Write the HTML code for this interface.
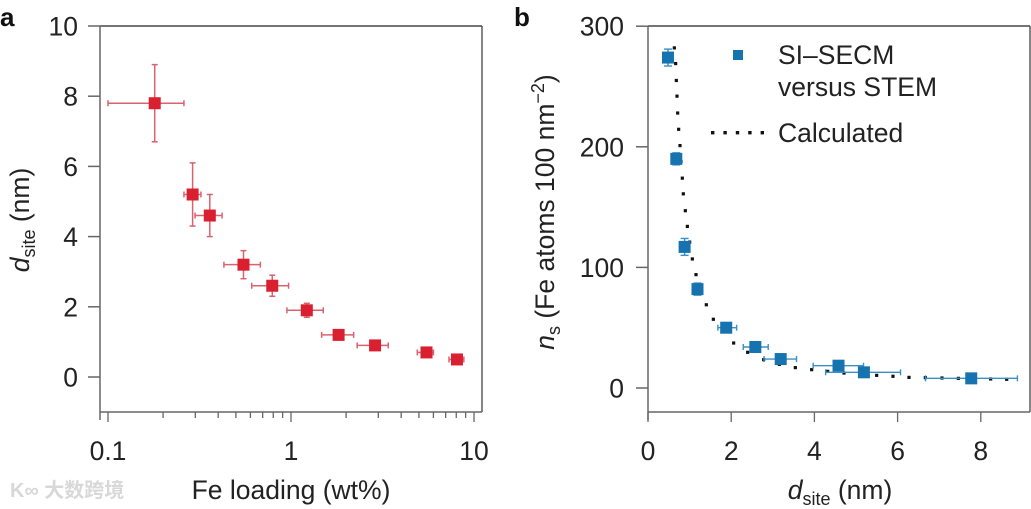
<!DOCTYPE html>
<html><head><meta charset="utf-8"><style>
html,body{margin:0;padding:0;background:#fff;}
svg{display:block;font-family:"Liberation Sans","Noto Sans CJK SC",sans-serif;}
</style></head><body>
<svg id="chart" width="1031" height="509" viewBox="0 0 1031 509" xmlns="http://www.w3.org/2000/svg">
<g id="pa"></g>
<g id="pb"></g>
</svg>
<script>
// Panel a data
const aX = [0.18,0.29,0.36,0.55,0.79,1.22,1.82,2.88,5.5,8.07];
const aY = [7.8,5.2,4.6,3.2,2.6,1.9,1.2,0.9,0.7,0.5];
const aXlo = [0.1,0.26,0.299,0.43,0.61,0.95,1.47,2.3,4.9,7.3];
const aXhi = [0.26,0.322,0.42,0.68,0.97,1.5,2.2,3.4,6.0,8.8];
const aYlo = [6.7,4.3,4.0,2.8,2.3,1.7,1.1,0.85,0.65,0.45];
const aYhi = [8.9,6.1,5.2,3.6,2.9,2.1,1.3,0.95,0.75,0.55];
const aYTicks = [0,2,4,6,8,10];
const aXTicks = [0.1,1,10];
const aXTickLabels = ["0.1","1","10"];
// Panel b data
const bX = [0.48,0.68,0.88,1.19,1.88,2.58,3.19,4.58,5.19,7.77];
const bY = [274,190,117,82,50,34,24,18.5,13,8];
const bXlo = [0.45,0.64,0.84,1.15,1.68,2.29,2.79,3.97,4.27,6.67];
const bXhi = [0.51,0.72,0.92,1.23,2.13,2.89,3.57,5.18,6.07,8.88];
const bYlo = [267,185,110,77,47,31,21,16,11,6];
const bYhi = [281,195,124,87,53,37,27,21,15,10];
const calcX = [0.633,0.665,0.681,0.697,0.713,0.737,0.769,0.793,0.825,0.849,0.897,0.946,1.002,1.066,1.154,1.242,1.402,1.571,1.779,2.059,2.396,2.78,3.157,3.542,3.934,4.319,4.712,5.112,5.497,5.889,6.274,6.667,7.067,7.46,7.837,8.237,8.622];
const calcY = [282,269,255,242,228,214.5,201,187.7,174,161,147,134,121,107,94,81,69,57,46.7,37.3,29.6,23.5,19.6,16.9,15.2,13.8,12.4,11.3,10.5,9.7,8.8,8.6,8.3,8.0,7.7,7.5,7.2];
const bYTicks = [0,100,200,300];
const bXTicks = [0,2,4,6,8];

const NS="http://www.w3.org/2000/svg";
const FS=26.5;
function mk(parent,tag,attrs,text){const e=document.createElementNS(NS,tag);for(const k in attrs)e.setAttribute(k,attrs[k]);if(text!==undefined)e.textContent=text;parent.appendChild(e);return e;}

const pa=document.getElementById('pa'), pb=document.getElementById('pb');
const axL=100,axR=482,axT=26,axB=412;
const ax=v=>108+(Math.log10(v)+1)*183;
const ay=v=>377-v*35.1;
const bxL=648,bxR=1030,bxT=26,bxB=412;
const bx=v=>648+v*41.6;
const by=v=>388-v*1.206;

function frame(g,L,R,T,B){
  let e;
  e=mk(g,'line',{x1:L,y1:T,x2:R,y2:T,stroke:'#222','stroke-width':1.3});
  
  e=mk(g,'line',{x1:R,y1:T,x2:R,y2:B,stroke:'#444','stroke-width':1.3});
  
  e=mk(g,'line',{x1:L,y1:T,x2:L,y2:B+8,stroke:'#666','stroke-width':1.5});
  
  e=mk(g,'line',{x1:L,y1:B,x2:R,y2:B,stroke:'#666','stroke-width':1.5});
  
}
frame(pa,axL,axR,axT,axB);
frame(pb,bxL,bxR,bxT,bxB);

let t=mk(pa,'text',{x:0,y:26,'font-size':26,'font-weight':'bold',fill:'#111'},'a');

t=mk(pb,'text',{x:514,y:26,'font-size':26,'font-weight':'bold',fill:'#111'},'b');


aYTicks.forEach(v=>{
  let l=mk(pa,'line',{x1:axL-12,x2:axL,y1:ay(v),y2:ay(v),stroke:'#666','stroke-width':1.5});
  
  let s=mk(pa,'text',{x:78,y:ay(v)+9.5,'font-size':FS,'text-anchor':'end',fill:'#222'},String(v));
  
});
for(let d=-1;d<=0;d++){for(let m=1;m<=9;m++){const v=m*Math.pow(10,d);
  let l=mk(pa,'line',{x1:ax(v),x2:ax(v),y1:axB,y2:axB+(m===1?10:6),stroke:'#666','stroke-width':1.3});
  }}
let l10=mk(pa,'line',{x1:ax(10),x2:ax(10),y1:axB,y2:axB+10,stroke:'#666','stroke-width':1.3});

aXTicks.forEach((v,i)=>{
  let s=mk(pa,'text',{x:ax(v),y:460,'font-size':FS,'text-anchor':'middle',fill:'#222'},aXTickLabels[i]);
  
});
t=mk(pa,'text',{x:291,y:499,'font-size':FS,'text-anchor':'middle',fill:'#222'},'Fe loading (wt%)');

t=mk(pa,'text',{transform:'translate(29,220) rotate(-90)','font-size':FS,'text-anchor':'middle',fill:'#222'});

mk(t,'tspan',{'font-style':'italic'},'d');mk(t,'tspan',{'font-size':18,dy:6},'site');mk(t,'tspan',{dy:-6},' (nm)');
t=mk(pa,'text',{x:10,y:497,'font-size':20,fill:'#d8d8d8','font-weight':'bold'},'K∞ 大数跨境');


aX.forEach((v,i)=>{
  const g=mk(pa,'g',{});
  
  const c='#d9636f',x=ax(v),y=ay(aY[i]);
  mk(g,'line',{x1:ax(aXlo[i]),x2:ax(aXhi[i]),y1:y,y2:y,stroke:c,'stroke-width':1.5});
  mk(g,'line',{x1:ax(aXlo[i]),x2:ax(aXlo[i]),y1:y-3,y2:y+3,stroke:c,'stroke-width':1.5});
  mk(g,'line',{x1:ax(aXhi[i]),x2:ax(aXhi[i]),y1:y-3,y2:y+3,stroke:c,'stroke-width':1.5});
  mk(g,'line',{x1:x,x2:x,y1:ay(aYlo[i]),y2:ay(aYhi[i]),stroke:c,'stroke-width':1.5});
  mk(g,'line',{x1:x-3,x2:x+3,y1:ay(aYlo[i]),y2:ay(aYlo[i]),stroke:c,'stroke-width':1.5});
  mk(g,'line',{x1:x-3,x2:x+3,y1:ay(aYhi[i]),y2:ay(aYhi[i]),stroke:c,'stroke-width':1.5});
  mk(g,'rect',{x:x-6,y:y-6,width:12,height:12,fill:'#d91f30'});
});

bYTicks.forEach(v=>{
  let l=mk(pb,'line',{x1:bxL-12,x2:bxL,y1:by(v),y2:by(v),stroke:'#666','stroke-width':1.5});
  
  let s=mk(pb,'text',{x:624,y:by(v)+9.5,'font-size':FS,'text-anchor':'end',fill:'#222'},String(v));
  
});
bXTicks.forEach(v=>{
  let l=mk(pb,'line',{x1:bx(v),x2:bx(v),y1:bxB,y2:bxB+10,stroke:'#666','stroke-width':1.3});
  
  let s=mk(pb,'text',{x:bx(v),y:460,'font-size':FS,'text-anchor':'middle',fill:'#222'},String(v));
  
});
t=mk(pb,'text',{x:840,y:499,'font-size':FS,'text-anchor':'middle',fill:'#222'});

mk(t,'tspan',{'font-style':'italic'},'d');mk(t,'tspan',{'font-size':18,dy:6},'site');mk(t,'tspan',{dy:-6},' (nm)');
t=mk(pb,'text',{transform:'translate(554,212) rotate(-90)','font-size':FS,'text-anchor':'middle',fill:'#222'});

mk(t,'tspan',{'font-style':'italic'},'n');mk(t,'tspan',{'font-size':18,dy:6},'s');mk(t,'tspan',{dy:-6},' (Fe atoms 100 nm');mk(t,'tspan',{'font-size':18,dy:-10},'−2');mk(t,'tspan',{dy:10},')');

const cg=mk(pb,'g',{});

calcX.forEach((v,i)=>{mk(cg,'rect',{x:bx(v)-1.6,y:by(calcY[i])-1.6,width:3.2,height:3.2,fill:'#111'});});

bX.forEach((v,i)=>{
  const g=mk(pb,'g',{});
  
  const c='#3a8fc4',x=bx(v),y=by(bY[i]);
  mk(g,'line',{x1:bx(bXlo[i]),x2:bx(bXhi[i]),y1:y,y2:y,stroke:c,'stroke-width':1.4});
  mk(g,'line',{x1:bx(bXlo[i]),x2:bx(bXlo[i]),y1:y-3,y2:y+3,stroke:c,'stroke-width':1.4});
  mk(g,'line',{x1:bx(bXhi[i]),x2:bx(bXhi[i]),y1:y-3,y2:y+3,stroke:c,'stroke-width':1.4});
  mk(g,'line',{x1:x,x2:x,y1:by(bYlo[i]),y2:by(bYhi[i]),stroke:c,'stroke-width':1.4});
  mk(g,'line',{x1:x-4,x2:x+4,y1:by(bYlo[i]),y2:by(bYlo[i]),stroke:c,'stroke-width':1.4});
  mk(g,'line',{x1:x-4,x2:x+4,y1:by(bYhi[i]),y2:by(bYhi[i]),stroke:c,'stroke-width':1.4});
  mk(g,'rect',{x:x-6,y:y-6,width:12,height:12,fill:'#1673b0'});
});

const lg=mk(pb,'g',{});

mk(lg,'rect',{x:733,y:50,width:10,height:10,fill:'#1673b0'});
t=mk(lg,'text',{x:778,y:64,'font-size':FS,fill:'#222'},'SI–SECM');

mk(lg,'text',{x:778,y:96,'font-size':FS,fill:'#222'},'versus STEM');
for(let k=0;k<5;k++)mk(lg,'rect',{x:711+k*12.4,y:131,width:3.4,height:3.4,fill:'#111'});
t=mk(lg,'text',{x:778,y:142,'font-size':FS,fill:'#222'},'Calculated');

</script>
</body></html>
